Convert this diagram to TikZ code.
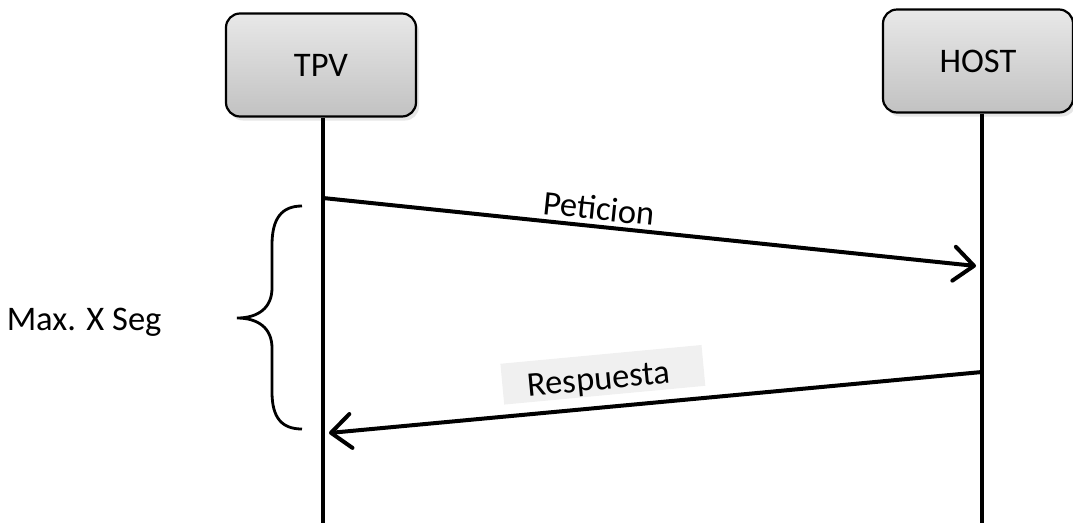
\documentclass[tikz,border=0pt]{standalone}
\usepackage{fontspec}
\setmainfont{Carlito}
\usetikzlibrary{arrows.meta}
\usetikzlibrary{shadows}

\begin{document}
\begin{tikzpicture}[x=1pt,y=-1pt,
        actor/.style = {rectangle, rounded corners=14pt, draw, line width=2.2pt,
                        top color=black!9, bottom color=black!24,
                        minimum width=190pt, minimum height=103pt,
                        drop shadow={opacity=0.2, shadow xshift=3pt, shadow yshift=-4pt}},
        lifeline/.style = {line width=4.6pt},
        msg/.style = {line width=4pt, arrows = -{Straight Barb[length=20pt,width=34pt,round]}},
        lbl/.style = {font=\fontsize{34.5}{41}\selectfont}]

        % \draw [help lines,step=50] (0,0) grid (1073,523);
        \useasboundingbox (0,0) rectangle (1073,523);

        \path   (321,65) node (tpv)  [actor,lbl] {TPV}
                (978,61) node (host) [actor,lbl] {HOST};

        \coordinate (tpv-end)  at (323,523);
        \coordinate (host-end) at (982,523);

        \draw[lifeline] (tpv.south -| tpv-end) -- (tpv-end);
        \draw[lifeline] (host.south -| host-end) -- (host-end);

        % messages
        \coordinate (pet-a) at (323,198);
        \coordinate (pet-b) at (976,266);
        \coordinate (res-a) at (982,372);
        \coordinate (res-b) at (329,433);

        \draw[msg] (pet-a) -- node [lbl,pos=0.42,above=1pt,sloped] (pet) {Peticion} (pet-b);
        \draw[msg] (res-a) -- node [lbl,pos=0.576,above=10pt,sloped,fill=black!6,
                                    text width=202pt,align=left,inner xsep=0pt,inner ysep=2pt,
                                    text height=33pt,text depth=4pt] (res) {\hspace*{25pt}Respuesta} (res-b);

        % brace
        \coordinate (br-top) at (302,206);
        \coordinate (br-tip) at (237,318);
        \coordinate (br-bot) at (302,429);
        \draw[line width=2.8pt] (br-top) .. controls (282,206) and (272,218) .. (272,245)
                -- (272,288) .. controls (272,308) and (258,318) .. (br-tip)
                .. controls (258,318) and (272,328) .. (272,348)
                -- (272,392) .. controls (272,418) and (282,429) .. (br-bot);

        \node [lbl,anchor=east] (max) at (165,322) {Max. X Seg};

\end{tikzpicture}
\end{document}
